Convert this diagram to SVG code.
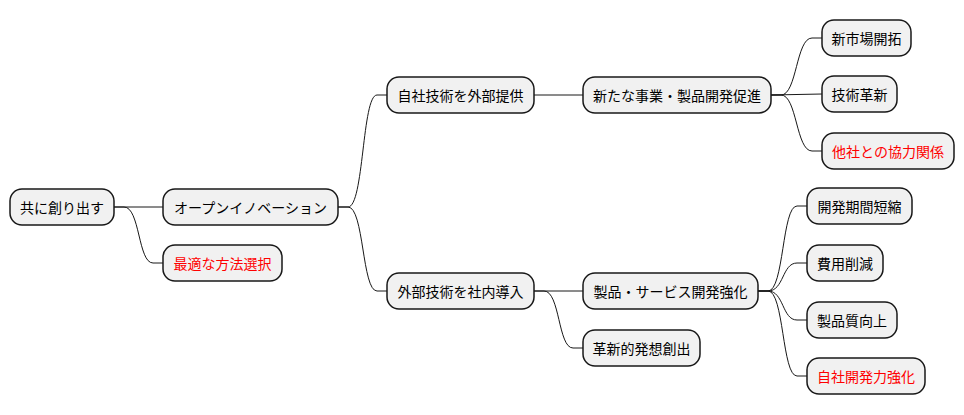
<svg xmlns="http://www.w3.org/2000/svg" width="964" height="415" viewBox="0 0 964 415">
<style>
.n rect{fill:#f1f1f1;stroke:#181818;stroke-width:1.5}
.n text{font-family:"Noto Sans CJK JP","Noto Sans CJK SC",sans-serif;font-size:14px;fill:#000;text-anchor:middle;dominant-baseline:central}
.n text.r{fill:#ff0000}
.c path{fill:none;stroke:#181818;stroke-width:1}
</style>
<rect width="964" height="415" fill="#ffffff"/>
<g class="c">
<path d="M114,207 L163,207"/>
<path d="M114,207 L124,207 C140,207 138,263 153,263 L163,263"/>
<path d="M338,207 L348,207 C364,207 362,95 377,95 L387,95"/>
<path d="M338,207 L348,207 C364,207 362,291 377,291 L387,291"/>
<path d="M534,95 L583,95"/>
<path d="M534,291 L583,291"/>
<path d="M534,291 L544,291 C560,291 558,348 573,348 L583,348"/>
<path d="M771,95 L781,95 C797,95 796,38 812,38 L822,38"/>
<path d="M771,95 L822,94"/>
<path d="M771,95 L781,95 C797,95 796,151 812,151 L822,151"/>
<path d="M758,291 L768,291 C784,291 782,206 797,206 L807,206"/>
<path d="M758,291 L768,291 C784,291 782,263 797,263 L807,263"/>
<path d="M758,291 L768,291 C784,291 782,320 797,320 L807,320"/>
<path d="M758,291 L768,291 C784,291 782,376 797,376 L807,376"/>
</g>
<g id="root" class="n"><rect x="10" y="189" width="104" height="36" rx="12"/><text x="62" y="207">共に創り出す</text></g>
<g id="open" class="n"><rect x="163" y="189" width="175" height="36" rx="12"/><text x="250.5" y="207">オープンイノベーション</text></g>
<g id="best" class="n"><rect x="163" y="245" width="119" height="36" rx="12"/><text x="222.5" y="263" class="r">最適な方法選択</text></g>
<g id="out" class="n"><rect x="387" y="77" width="147" height="36" rx="12"/><text x="460.5" y="95">自社技術を外部提供</text></g>
<g id="newbiz" class="n"><rect x="583" y="77" width="188" height="36" rx="12"/><text x="677" y="95">新たな事業・製品開発促進</text></g>
<g id="market" class="n"><rect x="822" y="20" width="89" height="36" rx="12"/><text x="866.5" y="38">新市場開拓</text></g>
<g id="tech" class="n"><rect x="822" y="76" width="75" height="36" rx="12"/><text x="859.5" y="94">技術革新</text></g>
<g id="coop" class="n"><rect x="822" y="133" width="132" height="36" rx="12"/><text x="888" y="151" class="r">他社との協力関係</text></g>
<g id="in" class="n"><rect x="387" y="273" width="147" height="36" rx="12"/><text x="460.5" y="291">外部技術を社内導入</text></g>
<g id="prod" class="n"><rect x="583" y="273" width="175" height="36" rx="12"/><text x="670.5" y="291">製品・サービス開発強化</text></g>
<g id="idea" class="n"><rect x="583" y="330" width="117" height="36" rx="12"/><text x="641.5" y="348">革新的発想創出</text></g>
<g id="short" class="n"><rect x="807" y="188" width="105" height="36" rx="12"/><text x="859.5" y="206">開発期間短縮</text></g>
<g id="cost" class="n"><rect x="807" y="245" width="76" height="36" rx="12"/><text x="845" y="263">費用削減</text></g>
<g id="quality" class="n"><rect x="807" y="302" width="90" height="36" rx="12"/><text x="852" y="320">製品質向上</text></g>
<g id="self" class="n"><rect x="807" y="358" width="118" height="36" rx="12"/><text x="866" y="376" class="r">自社開発力強化</text></g>
</svg>
